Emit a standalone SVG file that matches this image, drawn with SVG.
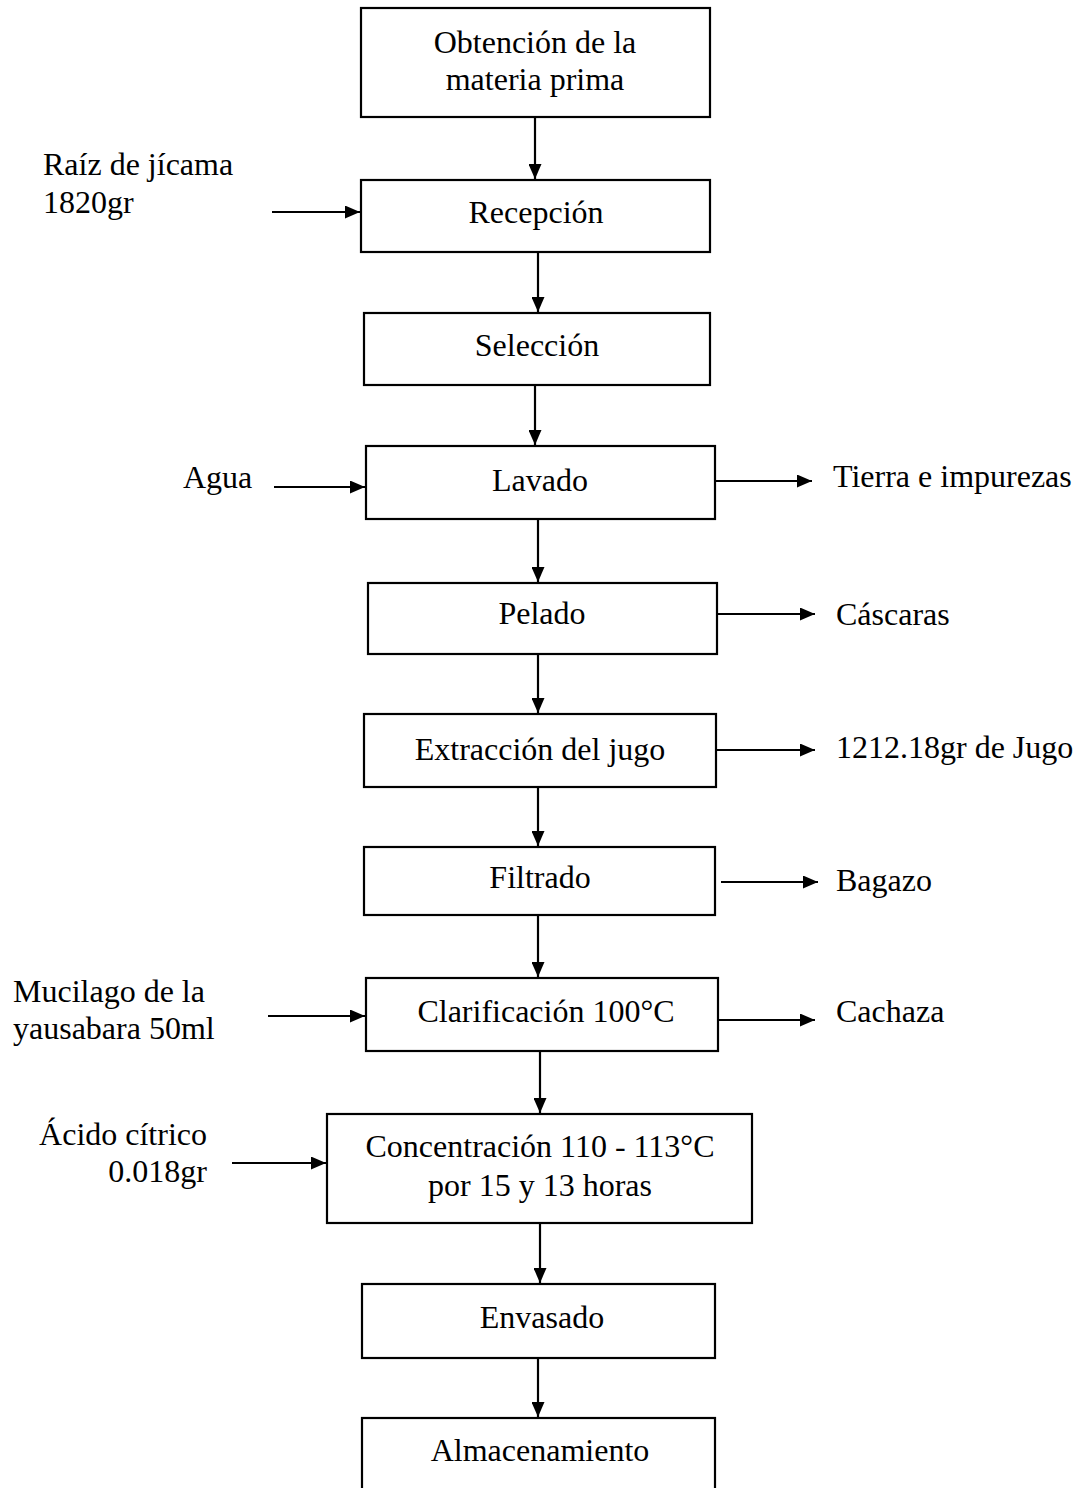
<svg xmlns="http://www.w3.org/2000/svg" width="1078" height="1488" viewBox="0 0 1078 1488">
<style>
.box{fill:#fff;stroke:#000;stroke-width:2.2}
.t{font-family:"Liberation Serif","Times New Roman",serif;font-size:32px;fill:#000}
.c{text-anchor:middle}
.r{text-anchor:end}
.ln{stroke:#000;stroke-width:2.2;fill:none}
</style>
<defs>
<marker id="ah" viewBox="0 0 15 13" refX="15" refY="6.5" markerWidth="15" markerHeight="13" markerUnits="userSpaceOnUse" orient="auto">
<path d="M0,0 L15,6.5 L0,13 Z" fill="#000"/>
</marker>
</defs>
<rect width="1078" height="1488" fill="#fff"/>
<g id="connectors">
<line class="ln" x1="535" y1="118" x2="535" y2="179" marker-end="url(#ah)"/>
<line class="ln" x1="538" y1="253" x2="538" y2="312" marker-end="url(#ah)"/>
<line class="ln" x1="535" y1="386" x2="535" y2="445" marker-end="url(#ah)"/>
<line class="ln" x1="538" y1="520" x2="538" y2="582" marker-end="url(#ah)"/>
<line class="ln" x1="538" y1="655" x2="538" y2="713" marker-end="url(#ah)"/>
<line class="ln" x1="538" y1="788" x2="538" y2="846" marker-end="url(#ah)"/>
<line class="ln" x1="538" y1="916" x2="538" y2="977" marker-end="url(#ah)"/>
<line class="ln" x1="540" y1="1052" x2="540" y2="1113" marker-end="url(#ah)"/>
<line class="ln" x1="540" y1="1224" x2="540" y2="1283" marker-end="url(#ah)"/>
<line class="ln" x1="538" y1="1359" x2="538" y2="1417" marker-end="url(#ah)"/>
<line class="ln" x1="272" y1="212" x2="360" y2="212" marker-end="url(#ah)"/>
<line class="ln" x1="274" y1="487" x2="365" y2="487" marker-end="url(#ah)"/>
<line class="ln" x1="268" y1="1016" x2="365" y2="1016" marker-end="url(#ah)"/>
<line class="ln" x1="232" y1="1163" x2="326" y2="1163" marker-end="url(#ah)"/>
<line class="ln" x1="716" y1="481" x2="812" y2="481" marker-end="url(#ah)"/>
<line class="ln" x1="718" y1="614" x2="815" y2="614" marker-end="url(#ah)"/>
<line class="ln" x1="717" y1="750" x2="815" y2="750" marker-end="url(#ah)"/>
<line class="ln" x1="721" y1="882" x2="818" y2="882" marker-end="url(#ah)"/>
<line class="ln" x1="719" y1="1020" x2="815" y2="1020" marker-end="url(#ah)"/>
</g>
<g id="n1"><rect class="box" x="361" y="8" width="349" height="109"/><text class="t c" x="535" y="53">Obtención de la</text><text class="t c" x="535" y="90">materia prima</text></g>
<g id="n2"><rect class="box" x="361" y="180" width="349" height="72"/><text class="t c" x="536" y="223">Recepción</text></g>
<g id="n3"><rect class="box" x="364" y="313" width="346" height="72"/><text class="t c" x="537" y="356">Selección</text></g>
<g id="n4"><rect class="box" x="366" y="446" width="349" height="73"/><text class="t c" x="540" y="491">Lavado</text></g>
<g id="n5"><rect class="box" x="368" y="583" width="349" height="71"/><text class="t c" x="542" y="624">Pelado</text></g>
<g id="n6"><rect class="box" x="364" y="714" width="352" height="73"/><text class="t c" x="540" y="760">Extracción del jugo</text></g>
<g id="n7"><rect class="box" x="364" y="847" width="351" height="68"/><text class="t c" x="540" y="888">Filtrado</text></g>
<g id="n8"><rect class="box" x="366" y="978" width="352" height="73"/><text class="t c" x="546" y="1022">Clarificación 100°C</text></g>
<g id="n9"><rect class="box" x="327" y="1114" width="425" height="109"/><text class="t c" x="540" y="1157">Concentración 110 - 113°C</text><text class="t c" x="540" y="1196">por 15 y 13 horas</text></g>
<g id="n10"><rect class="box" x="362" y="1284" width="353" height="74"/><text class="t c" x="542" y="1328">Envasado</text></g>
<g id="n11"><rect class="box" x="362" y="1418" width="353" height="80"/><text class="t c" x="540" y="1461">Almacenamiento</text></g>
<g id="labels">
<text class="t" x="43" y="175">Raíz de jícama</text>
<text class="t" x="43" y="213">1820gr</text>
<text class="t" x="183" y="488">Agua</text>
<text class="t" x="833" y="487">Tierra e impurezas</text>
<text class="t" x="836" y="625">Cáscaras</text>
<text class="t" x="836" y="758">1212.18gr de Jugo</text>
<text class="t" x="836" y="891">Bagazo</text>
<text class="t" x="13" y="1002">Mucilago de la</text>
<text class="t" x="13" y="1039">yausabara 50ml</text>
<text class="t" x="836" y="1022">Cachaza</text>
<text class="t r" x="207" y="1145">Ácido cítrico</text>
<text class="t r" x="207" y="1182">0.018gr</text>
</g>
</svg>
